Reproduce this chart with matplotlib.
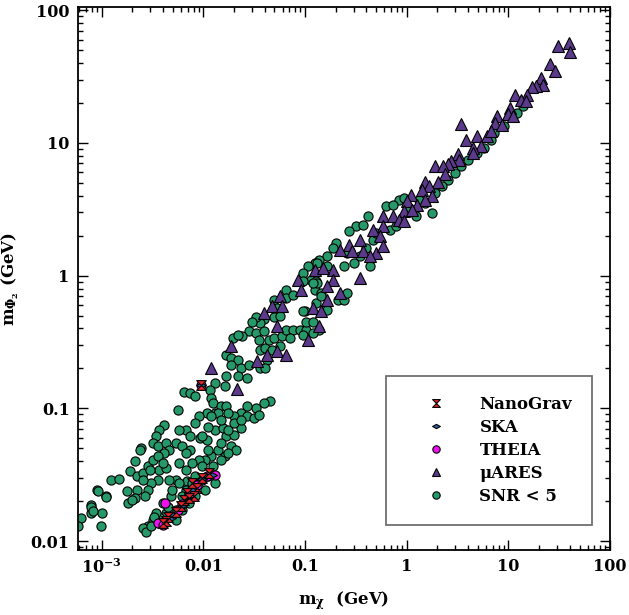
import matplotlib
matplotlib.use("Agg")
import matplotlib.pyplot as plt
from matplotlib.path import Path
from matplotlib.ticker import LogLocator, NullFormatter, FixedLocator, FixedFormatter

plt.rcParams['font.family'] = ['DejaVu Serif']
plt.rcParams['font.weight'] = 'bold'
plt.rcParams['mathtext.fontset'] = 'dejavuserif'
plt.rcParams['mathtext.default'] = 'bf'

# ---------------- data (GeV) ----------------
snr_x = [0.63, 0.42, 0.32, 0.27, 0.37, 0.20, 0.19, 0.166, 0.138, 0.124, 0.107, 0.115, 0.096, 0.128, 0.26, 0.30, 0.43, 0.35, 0.24, 0.166,
         0.124, 0.144, 0.21, 0.24, 0.26, 0.166, 0.099, 0.84, 0.94, 0.73, 1.05, 0.47, 0.40, 0.68, 0.78, 1.22, 1.52, 1.90, 2.55, 2.96,
         3.97, 5.75, 7.17, 8.95, 1.31, 2.20, 3.43, 4.96, 6.66, 13.9, 12.0, 1.77, 0.50,
         0.0656, 0.0656, 0.076, 0.0489, 0.0526, 0.0392, 0.0364, 0.0326, 0.0303, 0.0281, 0.0326, 0.0242, 0.0194, 0.0217, 0.0168, 0.0187,
         0.0217, 0.0234, 0.0187, 0.0168, 0.0162, 0.0217, 0.0271, 0.0281, 0.0364, 0.0406, 0.0438, 0.0351, 0.0392, 0.0489, 0.0588, 0.0656,
         0.076, 0.0882, 0.0706, 0.102, 0.095, 0.102, 0.119, 0.137, 0.128, 0.143, 0.0422, 0.0364, 0.0406, 0.0471, 0.0566, 0.095, 0.119,
         0.132, 0.119, 0.095, 0.132, 0.0489, 0.0566,
         0.0129, 0.0116, 0.0120, 0.0125, 0.0129, 0.0150, 0.0168, 0.0108, 0.00643, 0.00745, 0.00832, 0.00566,
         0.0454, 0.0392, 0.0326, 0.0271, 0.0234, 0.0201, 0.0174, 0.0139, 0.0120, 0.00895, 0.00832, 0.00667, 0.00575, 0.00534, 0.00619,
         0.00745, 0.00929, 0.0108, 0.0129, 0.0156, 0.0168, 0.0201, 0.0234, 0.0271, 0.0314, 0.0351, 0.0187, 0.0209, 0.0162, 0.0139,
         0.0120, 0.0104, 0.00895, 0.00745, 0.00773, 0.00667, 0.00575, 0.00692, 0.00832, 0.00534, 0.00478, 0.00534, 0.00428, 0.00369,
         0.00343, 0.00318, 0.00285, 0.00255, 0.00275, 0.00307, 0.00397, 0.00444, 0.00667, 0.00773, 0.00964, 0.0112, 0.0125, 0.0150,
         0.0174, 0.0129, 0.0104, 0.00832, 0.00718, 0.00619, 0.00534, 0.00369, 0.0033, 0.00964, 0.0112, 0.0150, 0.0174, 0.0201, 0.0234,
         0.0150, 0.0112, 0.00964, 0.00667, 0.00575, 0.00496, 0.00619,
         0.00412, 0.00369, 0.00343, 0.00318, 0.00356, 0.00428, 0.00461, 0.00412, 0.00246, 0.00237, 0.00212, 0.00190, 0.00220, 0.00255,
         0.00285, 0.00318, 0.00369, 0.00428, 0.00461, 0.00356, 0.00307, 0.00285, 0.00265, 0.00220, 0.00212, 0.00183, 0.00197, 0.00177,
         0.00122, 0.00147, 0.00109, 0.000908, 0.000783, 0.000783, 0.00101, 0.000978, 0.000628, 0.000583, 0.00296, 0.00356, 0.00255,
         0.00397, 0.00079, 0.00082, 0.00092, 0.0011]
snr_y = [3.33, 2.80, 2.35, 2.16, 2.42, 1.76, 1.62, 1.40, 1.32, 1.25, 1.18, 0.93, 1.05, 0.91, 1.48, 1.25, 1.18, 1.40, 1.18, 1.18,
         0.78, 0.74, 0.66, 0.66, 0.74, 0.55, 0.54, 3.74, 3.85, 3.43, 3.24, 1.87, 1.62, 2.22, 2.35, 2.80, 3.53, 4.20, 5.29, 5.94,
         7.49, 9.17, 11.9, 13.4, 3.74, 4.71, 6.67, 8.41, 10.6, 18.9, 16.8, 2.97, 2.10,
         0.78, 0.68, 0.72, 0.66, 0.57, 0.47, 0.44, 0.49, 0.45, 0.38, 0.37, 0.35, 0.34, 0.36, 0.254, 0.239,
         0.233, 0.201, 0.213, 0.174, 0.147, 0.174, 0.169, 0.213, 0.277, 0.285, 0.33, 0.33, 0.38, 0.34, 0.35, 0.39,
         0.39, 0.39, 0.34, 0.39, 0.54, 0.45, 0.45, 0.39, 0.62, 0.70, 0.233, 0.201, 0.201, 0.277, 0.293, 0.36, 0.37,
         0.88, 0.88, 0.906, 1.25, 0.49, 0.50,
         0.155, 0.138, 0.120, 0.110, 0.0922, 0.104, 0.104, 0.0922, 0.132, 0.130, 0.123, 0.0966,
         0.113, 0.110, 0.101, 0.104, 0.0922, 0.0871, 0.0922, 0.0922, 0.0871, 0.0871, 0.0775, 0.0691, 0.0691, 0.0548, 0.0518,
         0.0615, 0.0597, 0.0580, 0.0691, 0.0711, 0.0615, 0.063, 0.0711, 0.0871, 0.0846, 0.0896, 0.0518, 0.0488, 0.0435, 0.0488,
         0.0435, 0.0410, 0.0410, 0.0488, 0.0387, 0.0345, 0.0387, 0.0282, 0.0307, 0.0290, 0.0217, 0.0172, 0.0163, 0.0153,
         0.0163, 0.0145, 0.0129, 0.0125, 0.0118, 0.0129, 0.0193, 0.0182, 0.0244, 0.0274, 0.0290, 0.0307, 0.0366, 0.0410,
         0.0461, 0.0274, 0.0244, 0.0217, 0.0193, 0.0172, 0.0145, 0.0137, 0.0153, 0.0615, 0.0488, 0.0548, 0.0691, 0.0775, 0.0822,
         0.0822, 0.073, 0.0366, 0.0461, 0.0274, 0.0244, 0.0217,
         0.0753, 0.0691, 0.0615, 0.0548, 0.0518, 0.0548, 0.0488, 0.0461, 0.0503, 0.0488, 0.0399, 0.0335, 0.0307, 0.0326,
         0.0366, 0.0410, 0.0345, 0.0355, 0.0290, 0.0290, 0.0274, 0.0244, 0.0217, 0.0244, 0.0211, 0.0193, 0.0205, 0.0237,
         0.0290, 0.0293, 0.0217, 0.0244, 0.0188, 0.0163, 0.0163, 0.0129, 0.0149, 0.0129, 0.0345, 0.0435, 0.0290,
         0.0387, 0.0182, 0.0168, 0.0237, 0.0215]

mu_x = [30.9, 39.2, 40.6, 25.7, 28.5, 20.9, 21.7, 18.7, 17.1, 11.6, 15.2, 13.4, 15.0, 10.4, 9.8, 11.2, 7.7, 7.4, 8.6, 3.43,
        3.83, 4.96, 6.19, 6.66, 5.34, 4.44, 4.44, 3.19, 3.30, 2.75, 2.55, 1.90, 2.29, 2.37, 2.05, 1.52, 1.64, 1.41, 1.77, 1.52,
        1.09, 1.01, 1.27, 0.94, 1.13, 0.58, 0.73, 0.84, 0.94, 0.58, 0.47, 0.54, 0.35, 0.27, 0.22, 0.29, 0.37, 0.50, 0.43, 0.58,
        0.19, 0.124, 0.149, 0.086, 0.19, 0.166, 0.35, 0.22, 0.166, 0.119, 0.144, 0.0566, 0.047, 0.0588, 0.039, 0.0526, 0.137,
        0.106, 0.0187, 0.0422, 0.0526, 0.0656, 0.0338, 0.0119, 0.0214, 0.092]
mu_y = [53.5, 56.7, 48.2, 39.4, 34.7, 30.9, 27.5, 27.0, 26.4, 23.1, 23.1, 21.2, 20.6, 18.4, 16.4, 15.9, 15.9, 14.2, 13.7, 14.0,
        10.6, 11.2, 11.2, 12.2, 9.4, 9.2, 8.4, 8.2, 7.5, 7.3, 6.9, 6.7, 6.7, 5.8, 5.1, 5.1, 4.7, 4.45, 3.96, 3.74,
        4.08, 3.63, 3.43, 3.05, 3.14, 2.80, 2.80, 2.64, 2.57, 2.35, 2.22, 1.98, 1.87, 1.71, 1.57, 1.53, 1.53, 1.48, 1.40, 1.66,
        1.11, 1.11, 1.14, 0.93, 0.93, 0.83, 0.96, 0.74, 0.66, 0.57, 0.54, 0.70, 0.59, 0.59, 0.52, 0.415, 0.415,
        0.33, 0.293, 0.254, 0.269, 0.254, 0.226, 0.201, 0.140, 0.78]

theia_x = [0.00936, 0.0109, 0.0130, 0.00416, 0.00559, 0.00359, 0.0040, 0.0087, 0.0072, 0.0061]
theia_y = [0.151, 0.0307, 0.0316, 0.0194, 0.0172, 0.0137, 0.0133, 0.0266, 0.0225, 0.019]

ska_x = [0.00936, 0.0121, 0.00482, 0.00624, 0.00778, 0.0097, 0.0105, 0.0050]
ska_y = [0.151, 0.0316, 0.0149, 0.0188, 0.0244, 0.0293, 0.031, 0.0156]

nano_x = [0.00936, 0.0113, 0.00778, 0.0087, 0.00697, 0.00809, 0.00648, 0.00724, 0.00601, 0.00538, 0.00447, 0.00431, 0.00401, 0.0097]
nano_y = [0.151, 0.0326, 0.0274, 0.0251, 0.0230, 0.0217, 0.0205, 0.0212, 0.0183, 0.0167, 0.0153, 0.0141, 0.0137, 0.030]

xticks = [1e-3, 1e-2, 1e-1, 1, 10, 100]
xticklabels = [r'$10^{-3}$', '0.01', '0.1', '1', '10', '100']
yticks = [0.01, 0.1, 1, 10, 100]
yticklabels = ['0.01', '0.1', '1', '10', '100']

# ---------------- markers ----------------
hourglass = Path([(-1, 1), (1, 1), (0, 0), (1, -1), (-1, -1), (0, 0), (-1, 1)],
                 [Path.MOVETO] + [Path.LINETO] * 5 + [Path.CLOSEPOLY])
flatdiamond = Path([(-1, 0), (0, 0.55), (1, 0), (0, -0.55), (-1, 0)],
                   [Path.MOVETO] + [Path.LINETO] * 3 + [Path.CLOSEPOLY])

GREEN = '#26996a'
PURPLE = '#5b3a8c'
MAGENTA = '#ee11ee'
BLUE = '#2a62a8'
RED = '#e8262b'

fig = plt.figure(figsize=(6.29, 6.15), dpi=100)
ax = fig.add_axes([0.124, 0.106, 0.846, 0.882])

common = dict(linestyle='none', markeredgecolor='black', markeredgewidth=0.8)
h_snr, = ax.plot(snr_x, snr_y, marker='o', markersize=6.6, markerfacecolor=GREEN, label='SNR < 5', **common)
h_mu, = ax.plot(mu_x, mu_y, marker='^', markersize=8, markerfacecolor=PURPLE, label='μARES', **common)
h_th, = ax.plot(theia_x, theia_y, marker='o', markersize=6.6, markerfacecolor=MAGENTA, label='THEIA', **common)
h_ska, = ax.plot(ska_x, ska_y, marker=flatdiamond, markersize=7, markerfacecolor=BLUE, label='SKA', **common)
h_ng, = ax.plot(nano_x, nano_y, marker=hourglass, markersize=7, markerfacecolor=RED, label='NanoGrav', **common)

ax.set_xscale('log')
ax.set_yscale('log')
ax.set_xlim(5.84e-4, 100)
ax.set_ylim(0.0086, 105)

ax.xaxis.set_major_locator(FixedLocator(xticks))
ax.xaxis.set_major_formatter(FixedFormatter(xticklabels))
ax.yaxis.set_major_locator(FixedLocator(yticks))
ax.yaxis.set_major_formatter(FixedFormatter(yticklabels))
for a in (ax.xaxis, ax.yaxis):
    a.set_minor_locator(LogLocator(base=10, subs=range(2, 10), numticks=20))
    a.set_minor_formatter(NullFormatter())

ax.tick_params(which='both', direction='in', top=True, right=True, labelsize=11.5, width=1.0)
ax.tick_params(which='major', length=7, pad=6)
ax.tick_params(which='minor', length=3.5)
for lab in ax.get_xticklabels() + ax.get_yticklabels():
    lab.set_fontweight('bold')
for s in ax.spines.values():
    s.set_linewidth(1.3)

ax.set_xlabel(r'm$_{\chi}$  (GeV)', fontsize=12, fontweight='bold')
ax.set_ylabel(r'm$_{\Phi_2}$ (GeV)', fontsize=12, fontweight='bold')
ax.xaxis.set_label_coords(0.5, -0.073)
ax.yaxis.set_label_coords(-0.107, 0.5)

leg = ax.legend(handles=[h_ng, h_ska, h_th, h_mu, h_snr], loc='lower right',
                bbox_to_anchor=(0.966, 0.046), fancybox=False, framealpha=1,
                edgecolor='#707070', prop={'family': 'DejaVu Serif', 'weight': 'bold', 'size': 12},
                borderpad=1.2, labelspacing=0.36, handletextpad=0.8, borderaxespad=0,
                handlelength=3.6, markerscale=0.8)
leg.get_frame().set_linewidth(1.3)

fig.savefig('out.png', dpi=100)
